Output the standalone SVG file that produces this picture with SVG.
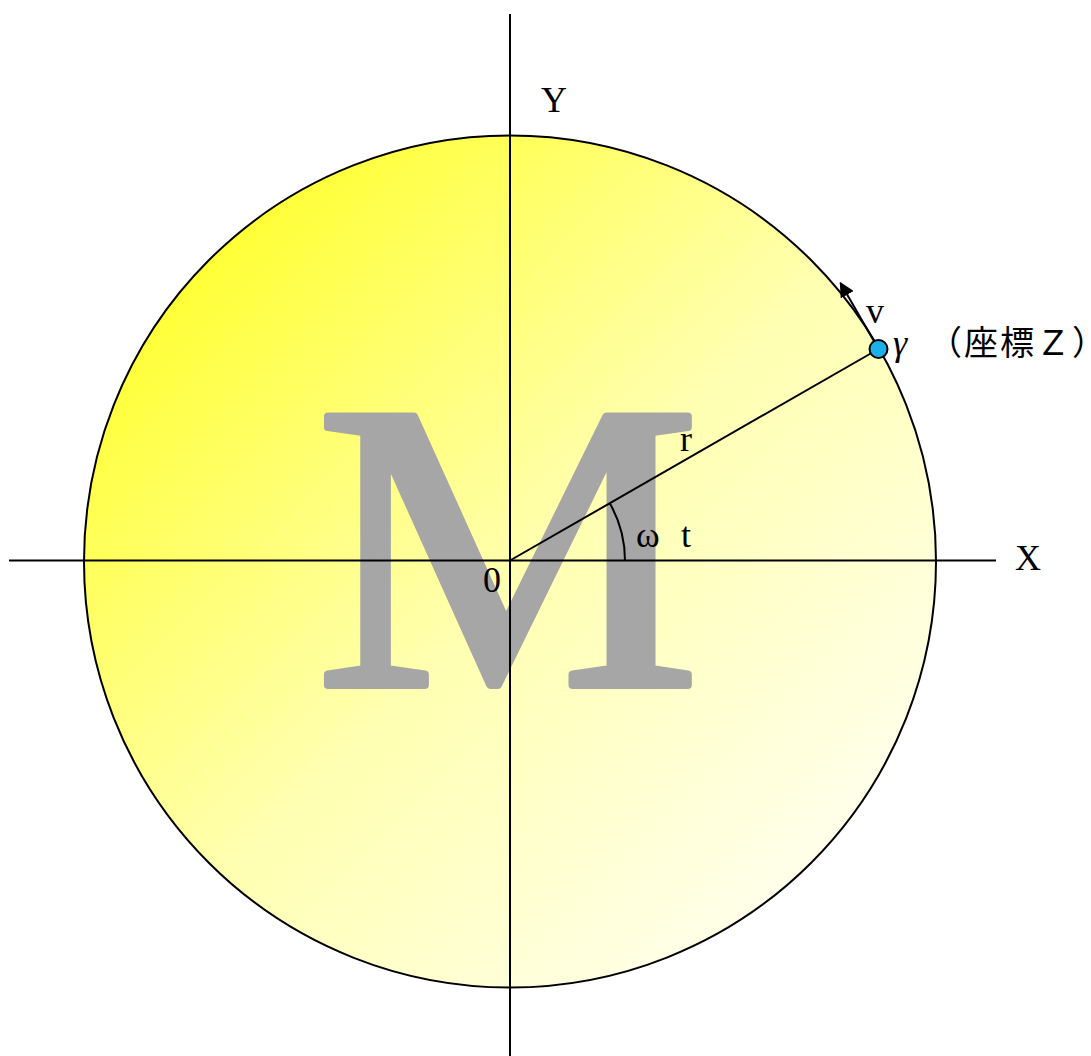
<svg xmlns="http://www.w3.org/2000/svg" width="1091" height="1056" viewBox="0 0 1091 1056">
<style>
.ln{stroke:#000;stroke-width:2;fill:none}
.disc{stroke:#000;stroke-width:2;fill:url(#g)}
.lb{font-family:"Liberation Serif","DejaVu Serif",serif;font-size:36px;fill:#000}
.cjk{font-family:"Liberation Serif","Noto Sans CJK JP",serif;font-size:34px;letter-spacing:2px;fill:#000}
.wm{font-family:"Liberation Serif",serif;font-size:410px;fill:#a6a6a6;stroke:#a6a6a6;stroke-width:8;stroke-linejoin:round}
</style>
<defs>
<linearGradient id="g" x1="0.12" y1="0.12" x2="0.9" y2="0.9">
<stop offset="0" stop-color="#ffff2e"/>
<stop offset="0.5" stop-color="#ffffb0"/>
<stop offset="1" stop-color="#fffff2"/>
</linearGradient>
<marker id="ah" viewBox="0 0 10 10" refX="9" refY="5" markerWidth="7.5" markerHeight="7.5" markerUnits="strokeWidth" orient="auto">
<path d="M0,0 L10,5 L0,10 z" fill="#000"/>
</marker>
</defs>
<g id="disc">
<circle cx="510" cy="561.5" r="426" class="disc"/>
</g>
<g id="watermark">
<text class="wm" x="508" y="685" text-anchor="middle" transform="translate(508 0) scale(1.055 1) translate(-508 0)">M</text>
</g>
<g id="connectors">
<line class="ln" x1="510" y1="14" x2="510" y2="1056"/>
<line class="ln" x1="9" y1="560.5" x2="996" y2="560.5"/>
<line class="ln" x1="510" y1="560.5" x2="878.5" y2="349"/>
<path class="ln" d="M625,560.5 A115,115 0 0 0 609.6,503"/>
<line class="ln" x1="878.5" y1="349" x2="840.5" y2="283" stroke-width="2.5" marker-end="url(#ah)"/>
</g>
<g id="point">
<circle cx="878.5" cy="349" r="9" fill="#1ab0ea" stroke="#000" stroke-width="2"/>
</g>
<g id="labels">
<text class="lb" x="541" y="112">Y</text>
<text class="lb" x="1015" y="570">X</text>
<text class="lb" x="483" y="592">0</text>
<text class="lb" x="680" y="451">r</text>
<text class="lb" x="636" y="547">ω</text>
<text class="lb" x="681" y="547">t</text>
<text class="lb" x="866" y="323">v</text>
<text class="lb" x="893" y="355" font-style="italic">γ</text>
<text class="cjk" x="928" y="355">（座標Ｚ）</text>
</g>
</svg>
